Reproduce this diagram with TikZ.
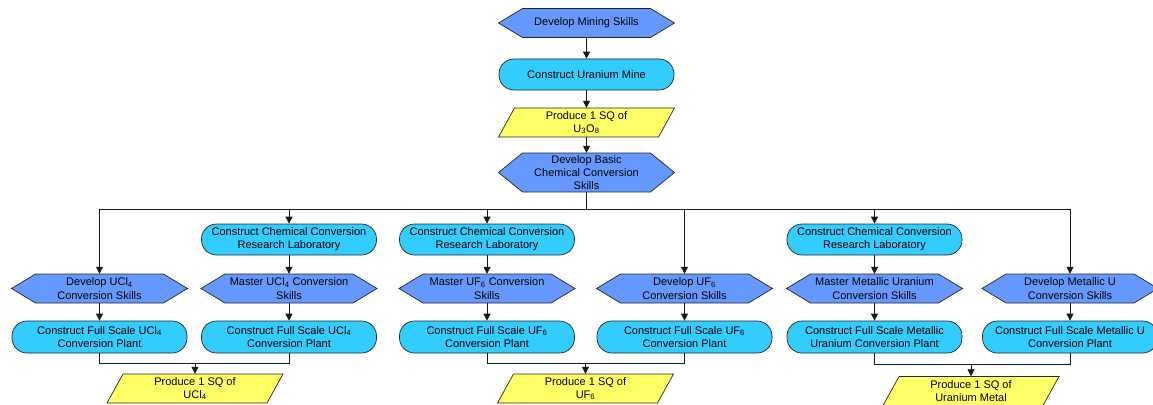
\documentclass[tikz,border=0pt]{standalone}
\usepackage{fontspec}
\setmainfont{Liberation Sans}
\usetikzlibrary{arrows.meta}

\definecolor{skillblue}{HTML}{6699FF}
\definecolor{buildcyan}{HTML}{33CCFF}
\definecolor{productyellow}{HTML}{FFFF66}
\definecolor{edgegray}{HTML}{262626}

\newcommand\boxfont{\fontsize{11}{13.2}\selectfont}

\tikzset{
  outline/.style={draw=edgegray, line width=0.7pt, line join=miter},
  skill/.style={outline, fill=skillblue},
  product/.style={outline, fill=productyellow},
  build/.style={outline, fill=buildcyan, rounded corners=15pt,
    minimum width=175pt, minimum height=31pt, inner sep=1pt,
    align=center, font=\boxfont},
  boxtext/.style={inner sep=0pt, align=center, font=\boxfont},
  link/.style={draw=black!90, line width=0.8pt},
  flow/.style={link, -{Triangle[length=7pt,width=7pt]}},
}

% hexagonal "skill" box: name, x, y, height, text
\newcommand\HexNode[5]{%
  \path[skill] ({#2-88},#3) -- ({#2-64},{#3-#4/2}) -- ({#2+64},{#3-#4/2})
    -- ({#2+88},#3) -- ({#2+64},{#3+#4/2}) -- ({#2-64},{#3+#4/2}) -- cycle;
  \node[boxtext, minimum width=176pt, minimum height=#4pt] (#1) at (#2,#3) {#5};}

% parallelogram "product" box: name, x, y, text
\newcommand\ParaNode[4]{%
  \path[product] ({#2-72},{#3-14.5}) -- ({#2+88},{#3-14.5})
    -- ({#2+72},{#3+14.5}) -- ({#2-88},{#3+14.5}) -- cycle;
  \node[boxtext, minimum width=176pt, minimum height=29pt] (#1) at (#2,#3) {#4};}

\begin{document}
\begin{tikzpicture}[x=1pt, y=-1pt]
\useasboundingbox (0,0) rectangle (1153,404);

% trunk
\HexNode{mining}{586.5}{23}{29}{Develop Mining Skills}
\node[build] (mine) at (586.5,74.5) {Construct Uranium Mine};
\ParaNode{oxide}{586.5}{122.5}{Produce 1 SQ of\\U\textsubscript{3}O\textsubscript{8}}
\HexNode{basic}{586.5}{172.5}{39}{Develop Basic\\Chemical Conversion\\Skills}

% UCl4 branch
\HexNode{devucl}{99.5}{288.5}{29}{Develop UCl\textsubscript{4}\\Conversion Skills}
\node[build, minimum height=32pt] (plantucla) at (99.5,337) {Construct Full Scale UCl\textsubscript{4}\\Conversion Plant};
\node[build] (labucl) at (289,239.5) {Construct Chemical Conversion\\Research Laboratory};
\HexNode{masterucl}{289}{288.5}{29}{Master UCl\textsubscript{4} Conversion\\Skills}
\node[build, minimum height=32pt] (plantuclb) at (289,337) {Construct Full Scale UCl\textsubscript{4}\\Conversion Plant};
\ParaNode{prodUCl}{195}{388.5}{Produce 1 SQ of\\UCl\textsubscript{4}}

% UF6 branch
\node[build] (labuf) at (487,239.5) {Construct Chemical Conversion\\Research Laboratory};
\HexNode{masteruf}{487}{288.5}{29}{Master UF\textsubscript{6} Conversion\\Skills}
\node[build, minimum height=32pt] (plantufa) at (487,337) {Construct Full Scale UF\textsubscript{6}\\Conversion Plant};
\HexNode{devuf}{684.5}{288.5}{29}{Develop UF\textsubscript{6}\\Conversion Skills}
\node[build, minimum height=32pt] (plantufb) at (684.5,337) {Construct Full Scale UF\textsubscript{6}\\Conversion Plant};
\ParaNode{prodUF}{585.5}{388.5}{Produce 1 SQ of\\UF\textsubscript{6}}

% metallic uranium branch
\node[build] (labmet) at (874.5,239.5) {Construct Chemical Conversion\\Research Laboratory};
\HexNode{mastermet}{874.5}{288.5}{29}{Master Metallic Uranium\\Conversion Skills}
\node[build, minimum height=32pt] (plantmeta) at (874.5,337) {Construct Full Scale Metallic\\Uranium Conversion Plant};
\HexNode{devmet}{1070}{288.5}{29}{Develop Metallic U\\Conversion Skills}
\node[build, minimum height=32pt] (plantmetb) at (1070,337) {Construct Full Scale Metallic U\\Conversion Plant};
\ParaNode{prodMet}{971}{391}{Produce 1 SQ of\\Uranium Metal}

% trunk connectors
\draw[flow] (mining.south) -- (mine.north);
\draw[flow] (mine.south) -- (oxide.north);
\draw[flow] (oxide.south) -- (basic.north);

% distribution bus
\coordinate (bus) at (586.5,209);
\draw[link] (basic.south) -- (bus);
\draw[link] (devucl.north |- bus) -- (devmet.north |- bus);
\foreach \n in {devucl, labucl, labuf, devuf, labmet, devmet}
  \draw[flow] (\n.north |- bus) -- (\n.north);

% within each column
\draw[flow] (devucl.south) -- (plantucla.north);
\draw[flow] (labucl.south) -- (masterucl.north);
\draw[flow] (masterucl.south) -- (plantuclb.north);
\draw[flow] (labuf.south) -- (masteruf.north);
\draw[flow] (masteruf.south) -- (plantufa.north);
\draw[flow] (devuf.south) -- (plantufb.north);
\draw[flow] (labmet.south) -- (mastermet.north);
\draw[flow] (mastermet.south) -- (plantmeta.north);
\draw[flow] (devmet.south) -- (plantmetb.north);

% merging into the products
\coordinate (joinucl) at (195,363);
\draw[link] (plantucla.south) -- (plantucla.south |- joinucl) -- (plantuclb.south |- joinucl) -- (plantuclb.south);
\draw[flow] (joinucl) -- (prodUCl.north);

\coordinate (joinuf) at (585.5,363);
\draw[link] (plantufa.south) -- (plantufa.south |- joinuf) -- (plantufb.south |- joinuf) -- (plantufb.south);
\draw[flow] (joinuf) -- (prodUF.north);

\coordinate (joinmet) at (971,364.5);
\draw[link] (plantmeta.south) -- (plantmeta.south |- joinmet) -- (plantmetb.south |- joinmet) -- (plantmetb.south);
\draw[flow] (joinmet) -- (prodMet.north);
\end{tikzpicture}
\end{document}
